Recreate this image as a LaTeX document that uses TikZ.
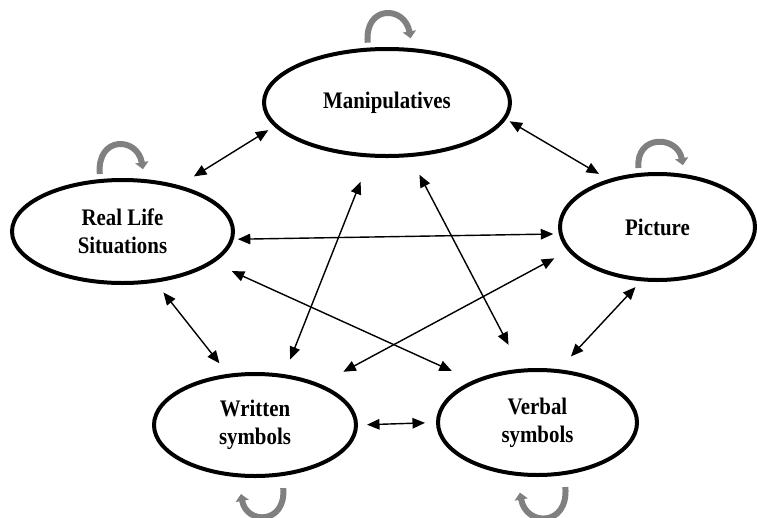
\documentclass[tikz,border=0pt]{standalone}
\usepackage{fontspec}
\setmainfont{Liberation Serif}[FakeStretch=0.88]
\usetikzlibrary{arrows.meta}
\usetikzlibrary{shapes.geometric}

\begin{document}
\begin{tikzpicture}[x=0.2mm,y=-0.2mm,>/.tip={Triangle[length=2.5mm,width=2.1mm]},
	topic/.style={shape=ellipse,draw,line width=0.8mm,inner sep=0pt,align=center,font=\fontsize{13.5}{16}\selectfont\bfseries},
	link/.style={<->,line width=0.8pt},
	selfloop/.style={-{Triangle[length=1.4mm,width=2.6mm]},draw=gray,line width=1.2mm}]
	\clip (0,0) rectangle (757,517);
	\draw (387,102.5) node (man) [topic,minimum width=49.2mm,minimum height=21.4mm] {Manipulatives};
	\draw (122.5,231.5) node (real) [topic,minimum width=44.2mm,minimum height=20.6mm] {Real Life\\Situations};
	\draw (657.5,227) node (pic) [topic,minimum width=39mm,minimum height=21.2mm] {Picture};
	\draw (255,425) node (wri) [topic,minimum width=40.4mm,minimum height=20.4mm] {Written\\symbols};
	\draw (537.5,422.5) node (ver) [topic,minimum width=39.8mm,minimum height=21mm] {Verbal\\symbols};
	\draw[link,shorten <=1.4mm,shorten >=3.4mm] (man.192) -- (real.39);
	\draw[link,shorten <=0.8mm,shorten >=2.1mm] (man.352) -- (pic.136);
	\draw[link,shorten <=0.8mm,shorten >=1.1mm] (real.356) -- (pic.184);
	\draw[link,shorten <=5.2mm,shorten >=3.2mm] (man.253) -- (wri.60);
	\draw[link,shorten <=4mm,shorten >=5.4mm] (man.293) -- (ver.107);
	\draw[link,shorten <=4mm,shorten >=4.6mm] (real.341) -- (ver.147);
	\draw[link,shorten <=3.1mm,shorten >=5.2mm] (pic.195) -- (wri.32);
	\draw[link,shorten <=2.5mm,shorten >=2.7mm] (real.303) -- (wri.118);
	\draw[link,shorten <=1.6mm,shorten >=3.5mm] (pic.253) -- (ver.68);
	\draw[link,shorten <=1.8mm,shorten >=2.2mm] (wri.east) -- (ver.west);
	\draw[selfloop,shorten <=1mm,shorten >=2mm] (man.109) to[out=95,in=100,looseness=2.5] (man.65);
	\draw[selfloop,shorten <=1mm,shorten >=2mm] (real.113) to[out=95,in=100,looseness=2.5] (real.67);
	\draw[selfloop,shorten <=1mm,shorten >=1.8mm] (pic.109) to[out=95,in=100,looseness=2.2] (pic.63);
	\draw[selfloop,shorten <=2.4mm,shorten >=3.4mm] (wri.298) to[out=-85,in=-80,looseness=2.8] (wri.252);
	\draw[selfloop,shorten <=2.4mm,shorten >=3.4mm] (ver.297) to[out=-85,in=-80,looseness=2.8] (ver.249);
\end{tikzpicture}
\end{document}
